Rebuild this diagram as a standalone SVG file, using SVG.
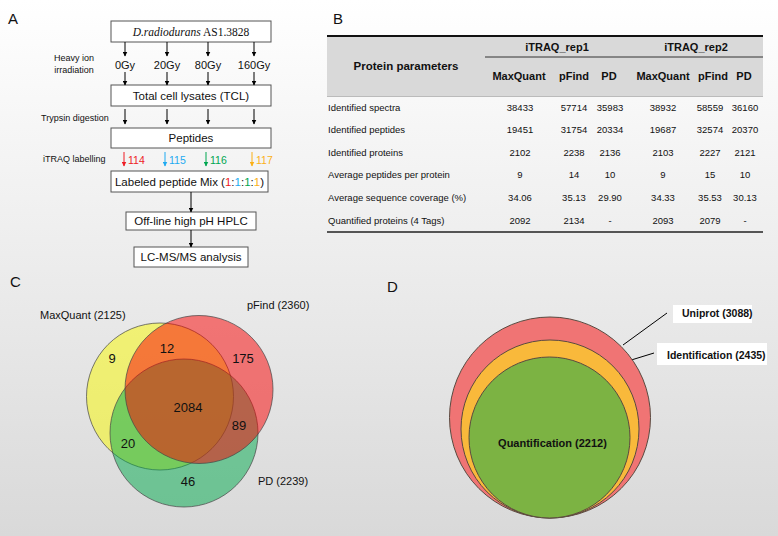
<svg xmlns="http://www.w3.org/2000/svg" width="778" height="536" viewBox="0 0 778 536">
<defs>
<linearGradient id="bg" x1="0" y1="0" x2="0" y2="1">
<stop offset="0" stop-color="#ffffff"/>
<stop offset="1" stop-color="#d9d9d9"/>
</linearGradient>
<marker id="ah" viewBox="0 0 10 10" refX="9" refY="5" markerWidth="5" markerHeight="5" orient="auto" markerUnits="userSpaceOnUse"><path d="M0,0 L10,5 L0,10 z" fill="#000"/></marker>
<marker id="ahR" viewBox="0 0 10 10" refX="9" refY="5" markerWidth="5" markerHeight="5" orient="auto" markerUnits="userSpaceOnUse"><path d="M0,0 L10,5 L0,10 z" fill="#ee1c25"/></marker>
<marker id="ahB" viewBox="0 0 10 10" refX="9" refY="5" markerWidth="5" markerHeight="5" orient="auto" markerUnits="userSpaceOnUse"><path d="M0,0 L10,5 L0,10 z" fill="#1eaaf1"/></marker>
<marker id="ahG" viewBox="0 0 10 10" refX="9" refY="5" markerWidth="5" markerHeight="5" orient="auto" markerUnits="userSpaceOnUse"><path d="M0,0 L10,5 L0,10 z" fill="#00a651"/></marker>
<marker id="ahY" viewBox="0 0 10 10" refX="9" refY="5" markerWidth="5" markerHeight="5" orient="auto" markerUnits="userSpaceOnUse"><path d="M0,0 L10,5 L0,10 z" fill="#fbb016"/></marker>
</defs>
<style>
text{font-family:"Liberation Sans",Arial,sans-serif;fill:#111}
.pl{font-size:15px}
.box{fill:#ffffff;stroke:#555;stroke-width:1}
.bt{font-size:11.5px;text-anchor:middle}
.gy{font-size:11px;text-anchor:middle}
.side{font-size:9px}
.num{font-size:10.5px}
.ar{stroke:#000;stroke-width:1;fill:none;marker-end:url(#ah)}
.th{font-size:11px;font-weight:bold;text-anchor:middle}
.td{font-size:9.5px;text-anchor:middle}
.tl{font-size:9.5px}
.vl{font-size:11px}
.vn{font-size:13px;text-anchor:middle}
.vc{stroke:#444;stroke-opacity:0.7;stroke-width:1}
.dc{stroke:#5a4a40;stroke-width:1}
.dl{font-size:10.5px;font-weight:bold}
</style>
<rect x="0" y="0" width="778" height="536" fill="url(#bg)"/>

<!-- Panel labels -->
<text class="pl" x="8" y="24">A</text>
<text class="pl" x="333" y="24">B</text>
<text class="pl" x="10" y="287">C</text>
<text class="pl" x="387" y="292">D</text>

<!-- Panel A side labels -->
<g id="a-side-labels">
<text class="side" x="74" y="61" text-anchor="middle">Heavy ion</text>
<text class="side" x="74" y="73" text-anchor="middle">irradiation</text>
<text class="side" x="41" y="121">Trypsin digestion</text>
<text class="side" x="43" y="162">iTRAQ labelling</text>
</g>

<g id="strain">
<rect class="box" x="111" y="21" width="160" height="21"/>
<text x="191" y="35.5" text-anchor="middle" style="font-family:'Liberation Serif','Times New Roman',serif;font-size:11.5px"><tspan font-style="italic">D.radiodurans</tspan> AS1.3828</text>
</g>
<g id="doses">
<text class="gy" x="125" y="68.5">0Gy</text>
<text class="gy" x="167" y="68.5">20Gy</text>
<text class="gy" x="208" y="68.5">80Gy</text>
<text class="gy" x="254" y="68.5">160Gy</text>
</g>
<g id="tcl">
<rect class="box" x="111" y="85" width="160" height="21"/>
<text class="bt" x="191" y="99.5">Total cell lysates (TCL)</text>
</g>
<g id="peptides">
<rect class="box" x="111" y="128" width="160" height="20"/>
<text class="bt" x="191" y="142">Peptides</text>
</g>
<g id="tags">
<text class="num" x="128" y="164" style="fill:#ee1c25">114</text>
<text class="num" x="169" y="164" style="fill:#1eaaf1">115</text>
<text class="num" x="210" y="164" style="fill:#00a651">116</text>
<text class="num" x="256" y="164" style="fill:#fbb016">117</text>
</g>
<g id="mix">
<rect class="box" x="111" y="171" width="157" height="21"/>
<text class="bt" x="189.5" y="185.5">Labeled peptide Mix (<tspan style="fill:#ee1c25">1</tspan>:<tspan style="fill:#1eaaf1">1</tspan>:<tspan style="fill:#00a651">1</tspan>:<tspan style="fill:#fbb016">1</tspan>)</text>
</g>
<g id="hplc">
<rect class="box" x="126" y="212" width="130" height="18"/>
<text class="bt" x="191" y="225">Off-line high pH HPLC</text>
</g>
<g id="lcms">
<rect class="box" x="134" y="247" width="114" height="20"/>
<text class="bt" x="191" y="261">LC-MS/MS analysis</text>
</g>

<g id="connectors">
<line class="ar" x1="125" y1="42" x2="125" y2="56"/>
<line class="ar" x1="167" y1="42" x2="167" y2="56"/>
<line class="ar" x1="208" y1="42" x2="208" y2="56"/>
<line class="ar" x1="254" y1="42" x2="254" y2="56"/>
<line class="ar" x1="125" y1="72" x2="125" y2="85"/>
<line class="ar" x1="167" y1="72" x2="167" y2="85"/>
<line class="ar" x1="208" y1="72" x2="208" y2="85"/>
<line class="ar" x1="254" y1="72" x2="254" y2="85"/>
<line class="ar" x1="125" y1="109" x2="125" y2="124"/>
<line class="ar" x1="167" y1="109" x2="167" y2="124"/>
<line class="ar" x1="208" y1="109" x2="208" y2="124"/>
<line class="ar" x1="254" y1="109" x2="254" y2="124"/>
<line x1="124" y1="152" x2="124" y2="166" style="stroke:#ee1c25;stroke-width:1;marker-end:url(#ahR)"/>
<line x1="165" y1="152" x2="165" y2="166" style="stroke:#1eaaf1;stroke-width:1;marker-end:url(#ahB)"/>
<line x1="206" y1="152" x2="206" y2="166" style="stroke:#00a651;stroke-width:1;marker-end:url(#ahG)"/>
<line x1="252" y1="152" x2="252" y2="166" style="stroke:#fbb016;stroke-width:1;marker-end:url(#ahY)"/>
<line class="ar" x1="191" y1="192" x2="191" y2="212"/>
<line class="ar" x1="191" y1="230" x2="191" y2="247"/>
<line x1="623" y1="345" x2="667" y2="313" stroke="#000" stroke-width="1"/>
<line x1="615" y1="365" x2="654" y2="353" stroke="#000" stroke-width="1"/>
</g>

<!-- Panel B table -->
<g id="table">
<rect x="327" y="36" width="436" height="60" fill="#d9d9d9"/>
<line x1="327" y1="36" x2="763" y2="36" stroke="#111" stroke-width="2"/>
<line x1="485" y1="57" x2="763" y2="57" stroke="#333" stroke-width="1"/>
<line x1="327" y1="96.5" x2="763" y2="96.5" stroke="#bbb" stroke-width="1"/>
<line x1="327" y1="232" x2="763" y2="232" stroke="#222" stroke-width="1.5"/>
<text class="th" x="406" y="70" style="font-size:11.5px">Protein parameters</text>
<text class="th" x="557" y="51">iTRAQ_rep1</text>
<text class="th" x="696" y="51">iTRAQ_rep2</text>
<text class="th" x="519" y="80">MaxQuant</text>
<text class="th" x="574" y="80">pFind</text>
<text class="th" x="609" y="80">PD</text>
<text class="th" x="663" y="80">MaxQuant</text>
<text class="th" x="713" y="80">pFind</text>
<text class="th" x="744" y="80">PD</text>

<text class="tl" x="328" y="110.5">Identified spectra</text>
<text class="td" x="520" y="110.5">38433</text><text class="td" x="574" y="110.5">57714</text><text class="td" x="610" y="110.5">35983</text><text class="td" x="663" y="110.5">38932</text><text class="td" x="710" y="110.5">58559</text><text class="td" x="745" y="110.5">36160</text>

<text class="tl" x="328" y="133">Identified peptides</text>
<text class="td" x="520" y="133">19451</text><text class="td" x="574" y="133">31754</text><text class="td" x="610" y="133">20334</text><text class="td" x="663" y="133">19687</text><text class="td" x="710" y="133">32574</text><text class="td" x="745" y="133">20370</text>

<text class="tl" x="328" y="155.5">Identified proteins</text>
<text class="td" x="520" y="155.5">2102</text><text class="td" x="574" y="155.5">2238</text><text class="td" x="610" y="155.5">2136</text><text class="td" x="663" y="155.5">2103</text><text class="td" x="710" y="155.5">2227</text><text class="td" x="745" y="155.5">2121</text>

<text class="tl" x="328" y="178">Average peptides per protein</text>
<text class="td" x="520" y="178">9</text><text class="td" x="574" y="178">14</text><text class="td" x="610" y="178">10</text><text class="td" x="663" y="178">9</text><text class="td" x="710" y="178">15</text><text class="td" x="745" y="178">10</text>

<text class="tl" x="328" y="200.5">Average sequence coverage (%)</text>
<text class="td" x="520" y="200.5">34.06</text><text class="td" x="574" y="200.5">35.13</text><text class="td" x="610" y="200.5">29.90</text><text class="td" x="663" y="200.5">34.33</text><text class="td" x="710" y="200.5">35.53</text><text class="td" x="745" y="200.5">30.13</text>

<text class="tl" x="328" y="223.5">Quantified proteins (4 Tags)</text>
<text class="td" x="520" y="223.5">2092</text><text class="td" x="574" y="223.5">2134</text><text class="td" x="610" y="223.5">-</text><text class="td" x="663" y="223.5">2093</text><text class="td" x="710" y="223.5">2079</text><text class="td" x="745" y="223.5">-</text>
</g>

<!-- Panel C Venn -->
<g id="venn-maxquant">
<circle class="vc" cx="160" cy="396.5" r="73.5" fill="#fafa00" fill-opacity="0.5"/>
</g>
<g id="venn-pd">
<circle class="vc" cx="184" cy="433" r="74" fill="#00aa4b" fill-opacity="0.5"/>
</g>
<g id="venn-pfind">
<circle class="vc" cx="199" cy="389.5" r="74" fill="#fa0000" fill-opacity="0.5"/>
</g>
<g id="venn-labels">
<text class="vl" x="40" y="319">MaxQuant (2125)</text>
<text class="vl" x="247" y="309">pFind (2360)</text>
<text class="vl" x="258" y="485">PD (2239)</text>
<text class="vn" x="112" y="362.5">9</text>
<text class="vn" x="167" y="352.5">12</text>
<text class="vn" x="243" y="362.5">175</text>
<text class="vn" x="188" y="411.5">2084</text>
<text class="vn" x="239" y="429.5">89</text>
<text class="vn" x="128" y="447.5">20</text>
<text class="vn" x="188" y="485.5">46</text>
</g>

<!-- Panel D -->
<g id="uniprot">
<circle class="dc" cx="550" cy="417.5" r="100.5" fill="#f07474"/>
<rect x="673" y="305" width="79" height="18" fill="#ffffff"/>
<text class="dl" x="682" y="317">Uniprot (3088)</text>
</g>
<g id="identification">
<circle class="dc" cx="550" cy="429" r="89" fill="#f9b93b"/>
<rect x="657" y="343" width="110" height="22" fill="#ffffff"/>
<text class="dl" x="667" y="359">Identification (2435)</text>
</g>
<g id="quantification">
<circle class="dc" cx="549.5" cy="437.5" r="80.5" fill="#7cb343"/>
<text class="dl" x="552.5" y="447" text-anchor="middle" style="font-size:11px">Quantification (2212)</text>
</g>
</svg>
